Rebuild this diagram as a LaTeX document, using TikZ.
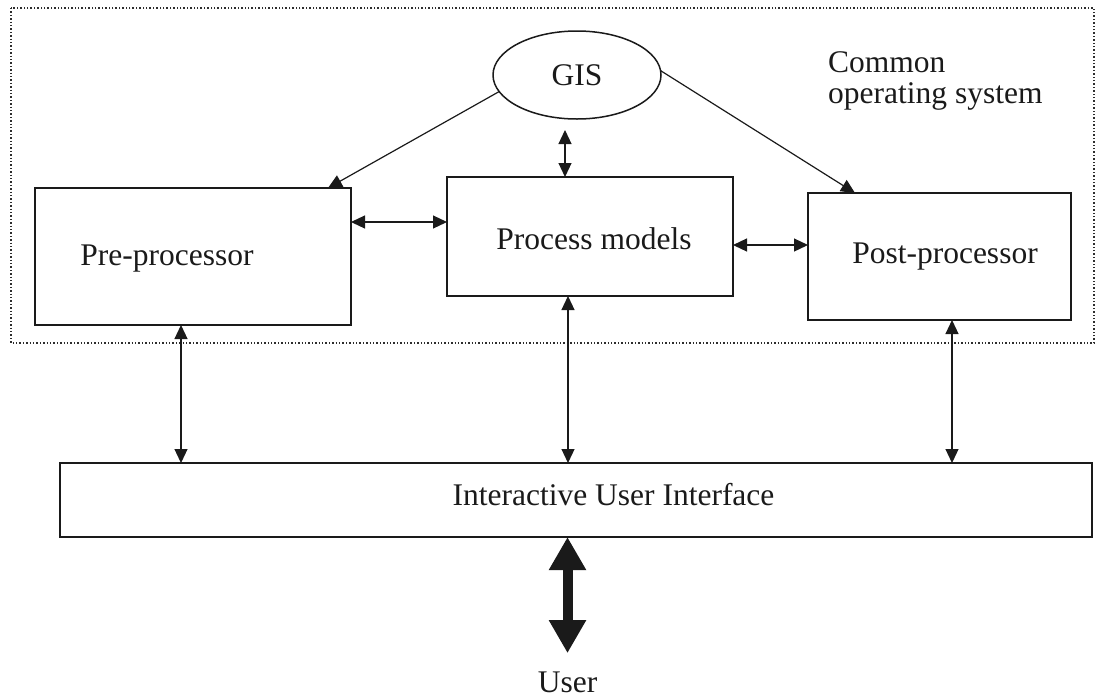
\documentclass[tikz,border=0pt]{standalone}
\usepackage{fontspec}
\setmainfont{Liberation Serif}
\usetikzlibrary{arrows.meta,shapes.geometric}

\definecolor{ink}{HTML}{1A1A1A}

\tikzset{
  txt/.style={font=\fontsize{31.5}{31}\selectfont, text=ink, inner sep=0pt},
  box/.style={draw=ink, line width=1.5pt, inner sep=0pt, outer sep=0pt},
  tipsmall/.tip={Triangle[length=14pt,width=13pt]},
  bi/.style={draw=ink, line width=1.2pt, tipsmall-tipsmall},
  uni/.style={draw=ink, line width=1.2pt, -tipsmall},
  bigbi/.style={draw=ink, line width=10pt,
    {Triangle[length=33pt,width=35pt]}-{Triangle[length=33pt,width=35pt]}},
  framebox/.style={draw=gray!35!black, line width=1.4pt, dotted}
}

\begin{document}
\begin{tikzpicture}[x=1pt,y=-1pt]
\useasboundingbox (0,0) rectangle (1119,697);

% common operating system frame
\draw[framebox] (11,8) rectangle (1094,343);

% components
\node[box, ellipse, minimum width=168pt, minimum height=88pt] (gis) at (577,75) {};
\node[txt, anchor=base] (gistxt) at (577,85) {GIS};

\node[box, minimum width=316pt, minimum height=137pt] (pre) at (193,256.5) {};
\node[txt, anchor=base] (pretxt) at (167,265) {Pre-processor};

\node[box, minimum width=286pt, minimum height=119pt] (proc) at (590,236.5) {};
\node[txt, anchor=base] (proctxt) at (594,249) {Process models};

\node[box, minimum width=263pt, minimum height=127pt] (post) at (939.5,256.5) {};
\node[txt, anchor=base] (posttxt) at (945,263) {Post-processor};

\node[box, minimum width=1032pt, minimum height=74pt] (ui) at (576,500) {};
\node[txt, anchor=base] (uitxt) at (613.5,505) {Interactive User Interface};

% two-line label; its base anchor sits on the second line
\node[txt, anchor=base west, align=left] (os) at (828,103) {Common\\operating system};

\node[txt, anchor=base] (user) at (567.5,692) {User};

% links inside the frame
\draw[uni] (gis.192) -- ([xshift=-23pt]pre.north east);
\draw[uni] (gis.3) -- ([xshift=47pt]post.north west);

\coordinate (gp) at ([xshift=-12pt,yshift=-11pt]gis.south);
\draw[bi] (gp) -- (gp |- proc.north);

\coordinate (pp) at ([yshift=-34pt]pre.north east);
\draw[bi] (pp) -- (pp -| proc.west);

\coordinate (pq) at ([yshift=-8.5pt]proc.east);
\draw[bi] (pq) -- (pq -| post.west);

% links to the user interface
\coordinate (d1) at ([xshift=-12pt]pre.south);
\draw[bi] (d1) -- (d1 |- ui.north);
\coordinate (d2) at ([xshift=-22pt]proc.south);
\draw[bi] (d2) -- (d2 |- ui.north);
\coordinate (d3) at ([xshift=12.5pt]post.south);
\draw[bi] (d3) -- (d3 |- ui.north);

% user exchange
\coordinate (u1) at ([yshift=18pt]user.north);
\draw[bigbi] (u1) -- (u1 |- ui.south);
\end{tikzpicture}
\end{document}
